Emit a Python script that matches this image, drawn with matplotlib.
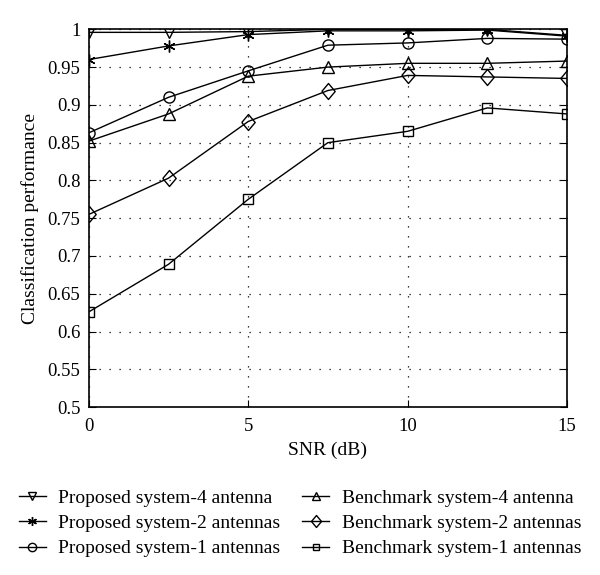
import numpy as np
import matplotlib
matplotlib.use('Agg')
import matplotlib.pyplot as plt

plt.rcParams['font.family'] = ['Liberation Serif', 'DejaVu Serif']

snr = [0, 2.5, 5, 7.5, 10, 12.5, 15]

prop4 = [0.996, 0.996, 0.997, 1.0, 1.0, 1.0, 0.992]
prop2 = [0.960, 0.978, 0.993, 0.998, 0.998, 0.999, 0.991]
prop1 = [0.863, 0.910, 0.945, 0.979, 0.982, 0.988, 0.987]
bench4 = [0.852, 0.888, 0.938, 0.950, 0.955, 0.955, 0.958]
bench2 = [0.755, 0.803, 0.878, 0.919, 0.939, 0.937, 0.935]
bench1 = [0.626, 0.689, 0.775, 0.850, 0.865, 0.896, 0.888]

labels = ['Proposed system-4 antenna', 'Proposed system-2 antennas',
          'Proposed system-1 antennas', 'Benchmark system-4 antenna',
          'Benchmark system-2 antennas', 'Benchmark system-1 antennas']
series = [prop4, prop2, prop1, bench4, bench2, bench1]

# diamond a bit taller than wide, like the original
diamond = [(-0.42, 0), (0, 0.5), (0.42, 0), (0, -0.5), (-0.42, 0)]
markers = ['v', (6, 2, 0), 'o', '^', diamond, 's']
msizes = [8, 8.5, 8, 8, 11.5, 6.5]

fig = plt.figure(figsize=(6, 5.75), dpi=100)
ax = fig.add_axes([0.148, 0.292, 0.797, 0.657])

for y, m, ms, lab in zip(series, markers, msizes, labels):
    ax.plot(snr, y, color='black', lw=1, marker=m, ms=ms, mew=1,
            markerfacecolor='none', markeredgecolor='black', label=lab)

ax.set_xlim(0, 15)
ax.set_ylim(0.5, 1)
ax.set_xticks([0, 5, 10, 15])
ax.set_yticks(np.arange(0.5, 1.001, 0.05))
ax.set_yticklabels(['0.5', '0.55', '0.6', '0.65', '0.7', '0.75', '0.8',
                    '0.85', '0.9', '0.95', '1'])
ax.grid(True, color='black', linestyle=(0, (1, 7)), lw=0.9)
ax.tick_params(direction='in', top=True, right=True, labelsize=13.5, length=5)
ax.tick_params(axis='x', pad=8)
ax.tick_params(axis='y', pad=6)
for s in ax.spines.values():
    s.set_linewidth(1.2)
ax.set_xlabel('SNR (dB)', fontsize=14, labelpad=5)
ax.set_ylabel('Classification performance', fontsize=14, labelpad=6)

h, l = ax.get_legend_handles_labels()
fig.legend(h, l, loc='center', bbox_to_anchor=(0.5, 0.09), ncol=2,
           frameon=False, fontsize=14, handlelength=1.4, columnspacing=1.1,
           handletextpad=0.65, labelspacing=0.4, markerscale=0.75)

fig.savefig('out.png', dpi=100)
